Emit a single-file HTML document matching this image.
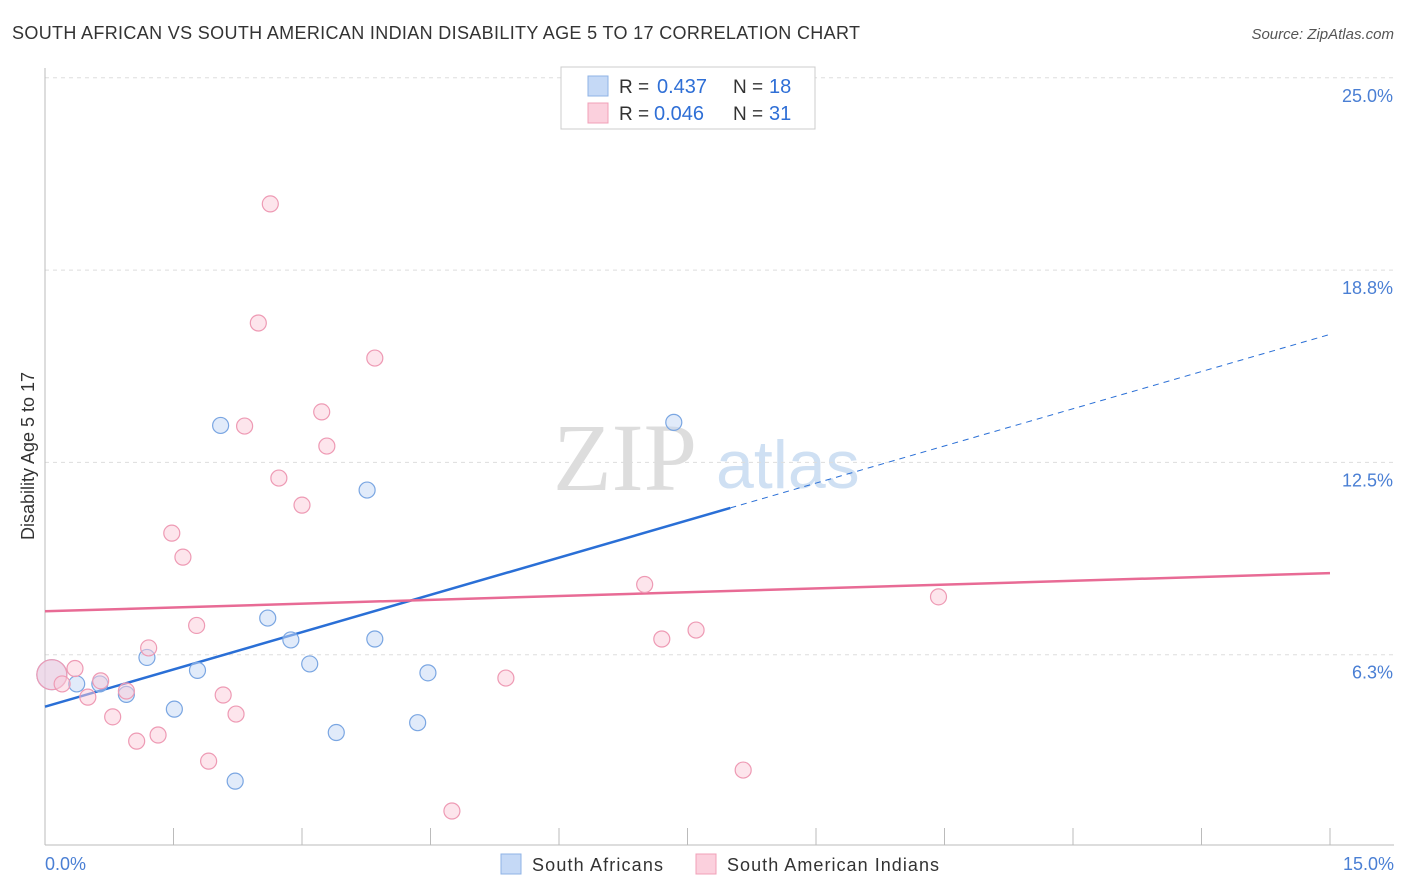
<!DOCTYPE html>
<html><head><meta charset="utf-8"><style>
body{margin:0;background:#fff;font-family:"Liberation Sans",sans-serif}
svg{display:block}
</style></head><body>
<svg id="c" width="1406" height="892">
<text x="12" y="39" font-size="18" fill="#333" textLength="848">SOUTH AFRICAN VS SOUTH AMERICAN INDIAN DISABILITY AGE 5 TO 17 CORRELATION CHART</text>
<text x="1394" y="39" font-size="15" fill="#555" font-style="italic" text-anchor="end">Source: ZipAtlas.com</text>
<text x="553" y="490" font-size="96" fill="#ddd" font-family="Liberation Serif,serif">ZIP</text>
<text x="716" y="488" font-size="68" fill="#cfe0f3">atlas</text>
<text transform="translate(34,456) rotate(-90)" font-size="18" fill="#333" text-anchor="middle">Disability Age 5 to 17</text>
<g id="grid"></g><g id="lines"></g><g id="pts"></g>
<text x="45" y="870" font-size="18" fill="#4a7fd4">0.0%</text>
<text x="1394" y="870" font-size="18" fill="#4a7fd4" text-anchor="end">15.0%</text>
<g>
<rect x="501" y="854" width="20" height="20" fill="#c5d9f6" stroke="#8fb3e6"/>
<text x="532" y="871" font-size="18" fill="#333" textLength="131">South Africans</text>
<rect x="696" y="854" width="20" height="20" fill="#fbd0dd" stroke="#f0a0b8"/>
<text x="727" y="871" font-size="18" fill="#333" textLength="212">South American Indians</text>
</g>
<g>
<rect x="561" y="67" width="254" height="62" fill="#fff" stroke="#ccc"/>
<rect x="588" y="76" width="20" height="20" fill="#c5d9f6" stroke="#8fb3e6"/>
<rect x="588" y="103" width="20" height="20" fill="#fbd0dd" stroke="#f0a0b8"/>
<text x="619" y="93" font-size="19" fill="#333">R =</text><text x="657" y="93" font-size="20" fill="#2f6fd6">0.437</text>
<text x="733" y="93" font-size="19" fill="#333">N =</text><text x="769" y="93" font-size="20" fill="#2f6fd6">18</text>
<text x="619" y="120" font-size="19" fill="#333">R =</text><text x="654" y="120" font-size="20" fill="#2f6fd6">0.046</text>
<text x="733" y="120" font-size="19" fill="#333">N =</text><text x="769" y="120" font-size="20" fill="#2f6fd6">31</text>
</g>
</svg>
<script>
const yTicks=[6.25,12.5,18.75,25];
const yTickLabels=["6.3%","12.5%","18.8%","25.0%"];
const blueX=[0.08,0.37,0.64,0.95,1.19,1.51,1.78,2.05,2.22,2.60,2.87,3.09,3.40,3.76,3.85,4.35,4.47,7.34];
const blueY=[5.6,5.3,5.3,4.96,6.16,4.48,5.74,13.7,2.14,7.44,6.73,5.95,3.72,11.6,6.76,4.04,5.66,13.8];
const pinkX=[0.08,0.20,0.35,0.50,0.65,0.79,0.95,1.07,1.21,1.32,1.48,1.61,1.77,1.91,2.08,2.23,2.33,2.49,2.63,2.73,3.0,3.23,3.29,3.85,4.75,5.38,7.0,7.2,7.6,8.15,10.43];
const pinkY=[5.6,5.3,5.8,4.87,5.4,4.23,5.07,3.44,6.47,3.64,10.2,9.42,7.2,2.79,4.94,4.32,13.68,17.03,20.9,11.99,11.11,14.14,13.03,15.89,1.17,5.49,8.53,6.76,7.05,2.5,8.13];
const blueLine=[0,4.56,8,11.02,15,16.66];
const pinkLine=[0,7.66,15,8.9];
const X0=45,X1=1330,Y0=847,PX=30.77;
const sx=v=>X0+(X1-X0)*v/15, sy=v=>Y0-v*PX;
const NS="http://www.w3.org/2000/svg";
function mk(t,a,p){const e=document.createElementNS(NS,t);for(const k in a)e.setAttribute(k,a[k]);document.getElementById(p).appendChild(e);return e;}
yTicks.forEach((t,i)=>{
 const g=mk('line',{x1:45,x2:1394,y1:sy(t),y2:sy(t),stroke:'#ddd','stroke-dasharray':'4,4'},'grid');
 
 
 const l=mk('text',{x:1393,y:sy(t)+24,'font-size':18,fill:'#4a7fd4','text-anchor':'end'},'grid');
 l.textContent=yTickLabels[i];
 
 
});
const ax=mk('line',{x1:45,x2:1394,y1:845,y2:845,stroke:'#bbb'},'grid');


const ay=mk('line',{x1:45,x2:45,y1:68,y2:845,stroke:'#bbb'},'grid');


for(let i=1;i<=10;i++){const t=mk('line',{x1:sx(i*1.5),x2:sx(i*1.5),y1:828,y2:845,stroke:'#bbb'},'grid');
 
 }
function pts(xs,ys,fill,stroke,name){xs.forEach((x,i)=>{
 const c=mk('circle',{cx:sx(x),cy:sy(ys[i]),r:i==0?15:8,fill:fill,stroke:stroke,'stroke-width':1.2,'fill-opacity':0.5},'pts');
 
 });}
pts(blueX,blueY,'#c3d8f5','#7aa6e2','blue-point');
pts(pinkX,pinkY,'#fbcbd9','#ee9ab4','pink-point');
let l1=mk('line',{x1:sx(blueLine[0]),y1:sy(blueLine[1]),x2:sx(blueLine[2]),y2:sy(blueLine[3]),stroke:'#2a6fd6','stroke-width':2.5},'lines');


let l2=mk('line',{x1:sx(blueLine[2]),y1:sy(blueLine[3]),x2:sx(blueLine[4]),y2:sy(blueLine[5]),stroke:'#2a6fd6','stroke-width':1,'stroke-dasharray':'6,5'},'lines');


let l3=mk('line',{x1:sx(pinkLine[0]),y1:sy(pinkLine[1]),x2:sx(pinkLine[2]),y2:sy(pinkLine[3]),stroke:'#e86b95','stroke-width':2.5},'lines');


</script>
</body></html>
